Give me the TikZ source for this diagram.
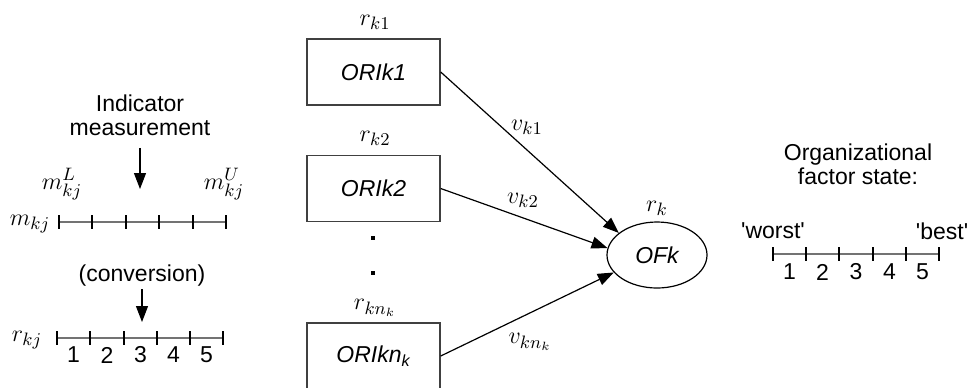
\documentclass[tikz,border=0pt]{standalone}
\usepackage{fontspec}
\setmainfont{Liberation Sans}
\usetikzlibrary{arrows.meta,shapes.geometric}

\begin{document}
\begin{tikzpicture}[x=0.5pt,y=-0.5pt,
    every node/.style={font=\fontsize{11.5}{12}\selectfont,inner sep=0pt},
    mlabel/.style={font=\fontsize{13}{14}\selectfont},
    orbox/.style={draw=black!75,line width=0.7pt,rectangle,minimum width=66.5pt,minimum height=33pt,font=\fontsize{11.5}{12}\selectfont\itshape},
    arr/.style={line width=0.6pt,-{Triangle[length=8pt,width=6pt]}},
    scaleline/.style={draw=black!55,line width=1pt},
    tick/.style={line width=0.6pt}]
    \clip (0,0) rectangle (967,387);

    \node[align=center] (ind) at (140,115) {Indicator\\measurement};
    \coordinate (mtip) at (140,189);
    \draw[arr,shorten <=6pt] (ind.south) -- (mtip);

    \node[mlabel] (mL) at (62,184) {$m_{kj}^{L}$};
    \node[mlabel] (mU) at (224,184) {$m_{kj}^{U}$};
    \node[mlabel] (m) at (30,224) {$m_{kj}$};
    \draw[scaleline] (59,222) -- (226,222);
    \draw[tick] (59,215) -- (59,229) (92,215) -- (92,229) (126,215) -- (126,229)
        (159,215) -- (159,229) (193,215) -- (193,229) (226,215) -- (226,229);

    \node (conv) at (142,276) {(conversion)};
    \coordinate (rtip) at (142,322);
    \draw[arr,shorten <=1pt] (conv.south) -- (rtip);

    \node[mlabel] (r) at (27,340) {$r_{kj}$};
    \draw[scaleline] (57,338) -- (223,338);
    \draw[tick] (57,331) -- (57,345) (90,331) -- (90,345) (124,331) -- (124,345)
        (157,331) -- (157,345) (190,331) -- (190,345) (223,331) -- (223,345);
    \node (ra) at (73.5,355) {1};
    \node (rb) at (107,355) {2};
    \node (rc) at (140.5,355) {3};
    \node (rd) at (173.5,355) {4};
    \node (re) at (206.5,355) {5};

    \node[mlabel] (r1) at (375,22) {$r_{k1}$};
    \node[orbox] (ORI1) at (373.5,72) {ORIk1};
    \node[mlabel] (r2) at (375,138) {$r_{k2}$};
    \node[orbox] (ORI2) at (373.5,188.5) {ORIk2};
    \node[fill,minimum size=1.6pt] (dot1) at (373,238) {};
    \node[fill,minimum size=1.6pt] (dot2) at (373,273) {};
    \node[mlabel] (r3) at (375,308) {$r_{kn_k}$};
    \node[orbox] (ORI3) at (373.5,356) {ORIkn\textsubscript{k}};

    \node[draw,ellipse,line width=0.6pt,minimum width=50pt,minimum height=33pt,font=\fontsize{11.5}{12}\selectfont\itshape] (OF) at (657,255) {OFk};
    \node[mlabel] (rk) at (657,208) {$r_{k}$};

    \draw[arr] (ORI1.east) -- (OF.150);
    \draw[arr] (ORI2.east) -- (OF.172);
    \draw[arr] (ORI3.east) -- (OF.202);
    \node[mlabel] (v1) at (527,127) {$v_{k1}$};
    \node[mlabel] (v2) at (523,200) {$v_{k2}$};
    \node[mlabel] (v3) at (530,342) {$v_{kn_k}$};

    \node[align=center] (state) at (858,164) {Organizational\\factor state:};
    \node (worst) at (773,231) {\textquotesingle worst\textquotesingle};
    \node (best) at (942,231) {\textquotesingle best\textquotesingle};
    \draw[scaleline] (773,254) -- (939,254);
    \draw[tick] (773,247) -- (773,261) (806,247) -- (806,261) (839,247) -- (839,261)
        (873,247) -- (873,261) (906,247) -- (906,261) (939,247) -- (939,261);
    \node (sa) at (789.5,272) {1};
    \node (sb) at (822.5,272) {2};
    \node (sc) at (856,272) {3};
    \node (sd) at (889.5,272) {4};
    \node (se) at (922.5,272) {5};
\end{tikzpicture}
\end{document}
